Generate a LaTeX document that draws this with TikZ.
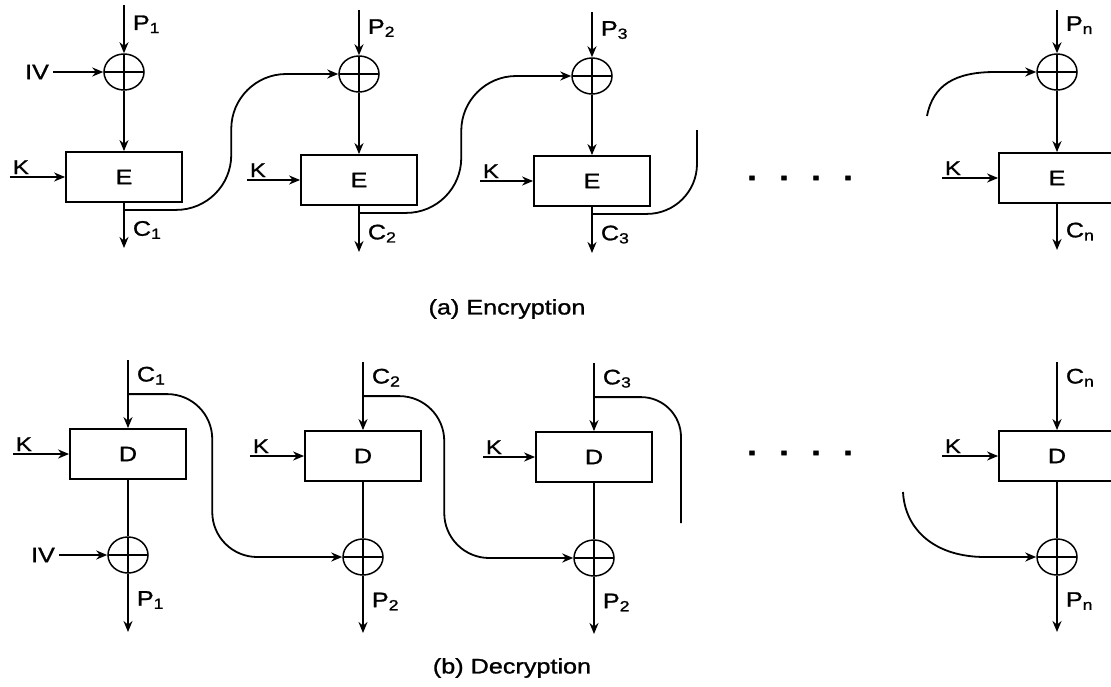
\documentclass[tikz,border=0pt]{standalone}
\usepackage{fontspec}
\setmainfont{Liberation Sans}[FakeStretch=1.2,FakeBold=1.2]
\usepackage{tikz}
\usetikzlibrary{arrows.meta,positioning,shapes.geometric,calc}

\begin{document}
\begin{tikzpicture}[x=1pt,y=-1pt,>={Stealth[length=11pt,width=9pt]},line width=1.8pt,
  every node/.style={font=\fontsize{21}{24}\selectfont},
  blk/.style={draw,minimum width=116pt,minimum height=50pt},
  xor/.style={draw,ellipse,minimum width=40pt,minimum height=36pt,inner sep=0pt,line width=1.5pt,
    path picture={\draw[line width=1.5pt] (path picture bounding box.north)--(path picture bounding box.south)
      (path picture bounding box.west)--(path picture bounding box.east);}},
  key/.style={font=\fontsize{20}{22}\selectfont,anchor=south west,inner sep=2pt},
  lbl/.style={right,inner sep=8pt},
  dotrow/.style={font=\fontsize{30}{30}\selectfont\bfseries}]
\useasboundingbox (0,0) rectangle (1111,686);

% encryption
\node[xor](x1) at (124,72){};
\node[xor](x2) at (359,74){};
\node[xor](x3) at (592,76){};
\node[xor](xn) at (1057,72){};
\node[blk](e1) at (124,177){E};
\node[blk](e2) at (359,180){E};
\node[blk](e3) at (592,181){E};
\node[blk](en) at (1057,178){E};
\node[dotrow](dotsa) at (800,178){.\hspace{22pt}.\hspace{22pt}.\hspace{22pt}.};
\node(capa) at (507,309){(a) Encryption};

\coordinate(p1) at (124,5);
\coordinate(p2) at (359,10);
\coordinate(p3) at (592,12);
\coordinate(pn) at (1057,10);
\draw[->] (p1) -- node[lbl,pos=0.4]{P\textsubscript{1}} (x1);
\draw[->] (p2) -- node[lbl,pos=0.4]{P\textsubscript{2}} (x2);
\draw[->] (p3) -- node[lbl,pos=0.4]{P\textsubscript{3}} (x3);
\draw[->] (pn) -- node[lbl,pos=0.35]{P\textsubscript{n}} (xn);
\draw[->] (x1) -- (e1);
\draw[->] (x2) -- (e2);
\draw[->] (x3) -- (e3);
\draw[->] (xn) -- (en);
\node(iva) at (37,72){IV};
\draw[->] (iva) -- (x1);

\coordinate(k1) at (10,177);
\coordinate(k2) at (247,180);
\coordinate(k3) at (480,181);
\coordinate(kn) at (942,178);
\draw[->] (k1) node[key](kl1){K} -- (e1);
\draw[->] (k2) node[key](kl2){K} -- (e2);
\draw[->] (k3) node[key](kl3){K} -- (e3);
\draw[->] (kn) node[key](kln){K} -- (en);

\coordinate(c1) at (124,248);
\coordinate(c2) at (359,252);
\coordinate(c3) at (592,253);
\coordinate(cn) at (1057,250);
\draw[->] (e1) -- node[lbl,pos=0.6]{C\textsubscript{1}} (c1);
\draw[->] (e2) -- node[lbl,pos=0.6]{C\textsubscript{2}} (c2);
\draw[->] (e3) -- node[lbl,pos=0.6]{C\textsubscript{3}} (c3);
\draw[->] (en) -- node[lbl,pos=0.6]{C\textsubscript{n}} (cn);

\draw[->,rounded corners=55pt] ($(e1.south)+(0,7)$) -| ($(x2.west)+(-107,0)$) -- (x2.west);
\draw[->,rounded corners=55pt] ($(e2.south)+(0,7)$) -| ($(x3.west)+(-110,0)$) -- (x3.west);
\coordinate(ta) at (697,130);
\draw[rounded corners=50pt] ($(e3.south)+(0,7)$) -| (ta);
\coordinate(sa) at (927,116);
\draw[->] (sa) .. controls (933,85) and (955,72) .. (995,72) -- (xn.west);

% decryption
\node[blk](d1) at (128,454){D};
\node[blk](d2) at (363,456){D};
\node[blk](d3) at (594,457){D};
\node[blk](dn) at (1057,456){D};
\node[xor](y1) at (128,555){};
\node[xor](y2) at (363,557){};
\node[xor](y3) at (594,558){};
\node[xor](yn) at (1057,557){};
\node[dotrow](dotsb) at (800,453){.\hspace{22pt}.\hspace{22pt}.\hspace{22pt}.};
\node(capb) at (512,668){(b) Decryption};

\coordinate(ci1) at (128,360);
\coordinate(ci2) at (363,362);
\coordinate(ci3) at (594,363);
\coordinate(cin) at (1057,362);
\draw[->] (ci1) -- node[lbl,pos=0.23]{C\textsubscript{1}} (d1);
\draw[->] (ci2) -- node[lbl,pos=0.23]{C\textsubscript{2}} (d2);
\draw[->] (ci3) -- node[lbl,pos=0.23]{C\textsubscript{3}} (d3);
\draw[->] (cin) -- node[lbl,pos=0.23]{C\textsubscript{n}} (dn);
\draw (d1) -- (y1);
\draw (d2) -- (y2);
\draw (d3) -- (y3);
\draw (dn) -- (yn);
\node(ivb) at (43,555){IV};
\draw[->] (ivb) -- (y1);

\coordinate(kd1) at (13,454);
\coordinate(kd2) at (250,456);
\coordinate(kd3) at (483,457);
\coordinate(kdn) at (942,456);
\draw[->] (kd1) node[key](kld1){K} -- (d1);
\draw[->] (kd2) node[key](kld2){K} -- (d2);
\draw[->] (kd3) node[key](kld3){K} -- (d3);
\draw[->] (kdn) node[key](kldn){K} -- (dn);

\coordinate(po1) at (128,632);
\coordinate(po2) at (363,633);
\coordinate(po3) at (594,634);
\coordinate(pon) at (1057,632);
\draw[->] (y1) -- node[lbl,pos=0.45]{P\textsubscript{1}} (po1);
\draw[->] (y2) -- node[lbl,pos=0.45]{P\textsubscript{2}} (po2);
\draw[->] (y3) -- node[lbl,pos=0.45]{P\textsubscript{2}} (po3);
\draw[->] (yn) -- node[lbl,pos=0.45]{P\textsubscript{n}} (pon);

\draw[->,rounded corners=45pt] ($(d1.north)+(0,-34)$) -| ($(y2.west)+(-130,0)$) -- (y2.west);
\draw[->,rounded corners=45pt] ($(d2.north)+(0,-34)$) -| ($(y3.west)+(-129,0)$) -- (y3.west);
\coordinate(tb) at (681,523);
\draw[rounded corners=40pt] ($(d3.north)+(0,-34)$) -| (tb);
\coordinate(sb) at (903,492);
\draw[->] (sb) .. controls (905,530) and (935,557) .. (985,557) -- (yn.west);
\end{tikzpicture}
\end{document}
